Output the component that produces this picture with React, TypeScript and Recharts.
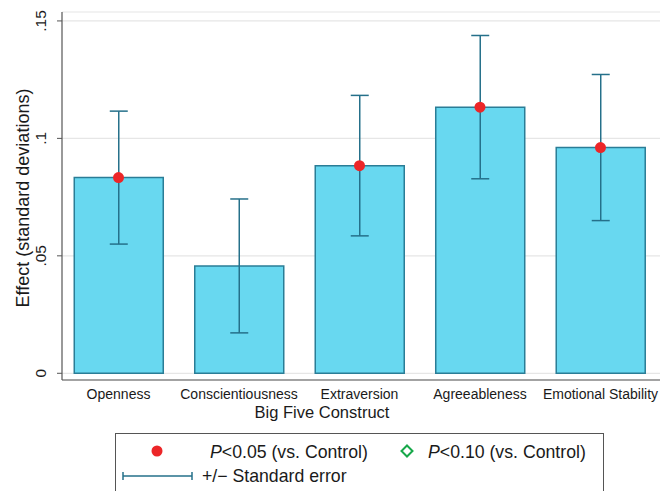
import React from 'react';
import { ComposedChart, Bar, ErrorBar, Scatter, XAxis, YAxis, CartesianGrid } from 'recharts';

// Big Five effects (SD units)
const constructs = ['Openness', 'Conscientiousness', 'Extraversion', 'Agreeableness', 'Emotional Stability'];
const effects = [0.0833, 0.0457, 0.0884, 0.1133, 0.0961];
const stdErrors = [0.0283, 0.0285, 0.0299, 0.0305, 0.0311];
const significant = [true, false, true, true, true]; // P<0.05 vs. control
const yTicks = [0, 0.05, 0.1, 0.15];

const FONT = '"Liberation Sans", Arial, Helvetica, sans-serif';
const BAR_FILL = '#68d8f0';
const BAR_STROKE = '#2a7d96';
const ERR_COLOR = '#25708a';
const DOT_RED = '#ec2628';
const DIAMOND_GREEN = '#17a84a';
const TEXT = '#1a1a1a';

const data = constructs.map((name, i) => ({
  idx: i + 1,
  name,
  effect: effects[i],
  se: stdErrors[i],
}));
const sigData = data.filter((_, i) => significant[i]);

const fmtY = (v: number) => (v === 0 ? '0' : String(v).replace(/^0/, ''));

const YTick = (props: any) => {
  const { x, y, payload } = props;
  const bx = x - 9;
  return (
    <text x={bx} y={y} transform={`rotate(-90 ${bx} ${y})`} textAnchor="middle" fontSize={15.5} fill={TEXT} fontFamily={FONT}>
      {fmtY(payload.value)}
    </text>
  );
};

const XTick = (props: any) => {
  const { x, y, payload } = props;
  return (
    <text x={x} y={y + 11} textAnchor="middle" fontSize={14} fill={TEXT} fontFamily={FONT}>
      {constructs[payload.value - 1]}
    </text>
  );
};

const YTitle = () => (
  <text x={29} y={198} transform="rotate(-90 29 198)" textAnchor="middle" fontSize={18} fill={TEXT} fontFamily={FONT}>
    Effect (standard deviations)
  </text>
);

const XTitle = () => (
  <text x={322} y={418} textAnchor="middle" fontSize={16.5} fill={TEXT} fontFamily={FONT}>
    Big Five Construct
  </text>
);

const Legend = () => (
  <svg width={660} height={491} style={{ position: 'absolute', left: 0, top: 0, pointerEvents: 'none' }}>
    <rect x={115.5} y={433.5} width={488} height={70} fill="#fff" stroke="#555" strokeWidth={1} />
    <circle cx={157} cy={451} r={5.5} fill={DOT_RED} />
    <text x={210} y={457.5} fontSize={17.7} fill={TEXT} fontFamily={FONT}>
      <tspan fontStyle="italic">P</tspan>&lt;0.05 (vs. Control)
    </text>
    <path d="M407 445.5 L412.5 451 L407 456.5 L401.5 451 Z" fill="none" stroke={DIAMOND_GREEN} strokeWidth={2} />
    <text x={428} y={457.5} fontSize={17.7} fill={TEXT} fontFamily={FONT}>
      <tspan fontStyle="italic">P</tspan>&lt;0.10 (vs. Control)
    </text>
    <line x1={123} y1={476} x2={192} y2={476} stroke={ERR_COLOR} strokeWidth={1.5} />
    <line x1={123} y1={472} x2={123} y2={480} stroke={ERR_COLOR} strokeWidth={1.5} />
    <line x1={192} y1={472} x2={192} y2={480} stroke={ERR_COLOR} strokeWidth={1.5} />
    <text x={202} y={482} fontSize={17.7} fill={TEXT} fontFamily={FONT}>
      +/− Standard error
    </text>
  </svg>
);

export default function App() {
  return (
    <div style={{ position: 'absolute', left: 0, top: 0, width: 660, height: 491, background: '#fff', fontFamily: FONT }}>
      <ComposedChart width={660} height={491} data={data} margin={{ top: 12, right: 0, bottom: 71, left: 0 }}>
        <CartesianGrid horizontal vertical={false} stroke="#e6e6e6" strokeWidth={1.2} />
        <XAxis
          type="number"
          dataKey="idx"
          domain={[0.531, 5.494]}
          ticks={[1, 2, 3, 4, 5]}
          interval={0}
          allowDataOverflow
          tickLine={false}
          tick={<XTick />}
          axisLine={{ stroke: '#555', strokeWidth: 1.2 }}
          height={40}
          label={<XTitle />}
        />
        <YAxis
          type="number"
          domain={[-0.00286, 0.1538]}
          ticks={yTicks}
          allowDataOverflow
          width={62}
          tickSize={5}
          tickLine={{ stroke: '#555' }}
          tick={<YTick />}
          axisLine={{ stroke: '#555', strokeWidth: 1.2 }}
          label={<YTitle />}
        />
        <Bar dataKey="effect" barSize={89} fill={BAR_FILL} stroke={BAR_STROKE} strokeWidth={1.5} isAnimationActive={false}>
          <ErrorBar dataKey="se" width={9} stroke={ERR_COLOR} strokeWidth={1.5} />
        </Bar>
        <Scatter data={sigData} dataKey="effect" fill={DOT_RED} isAnimationActive={false}
          shape={(p: any) => <circle cx={p.cx} cy={p.cy} r={5.5} fill={DOT_RED} />} />
      </ComposedChart>
      <Legend />
    </div>
  );
}
